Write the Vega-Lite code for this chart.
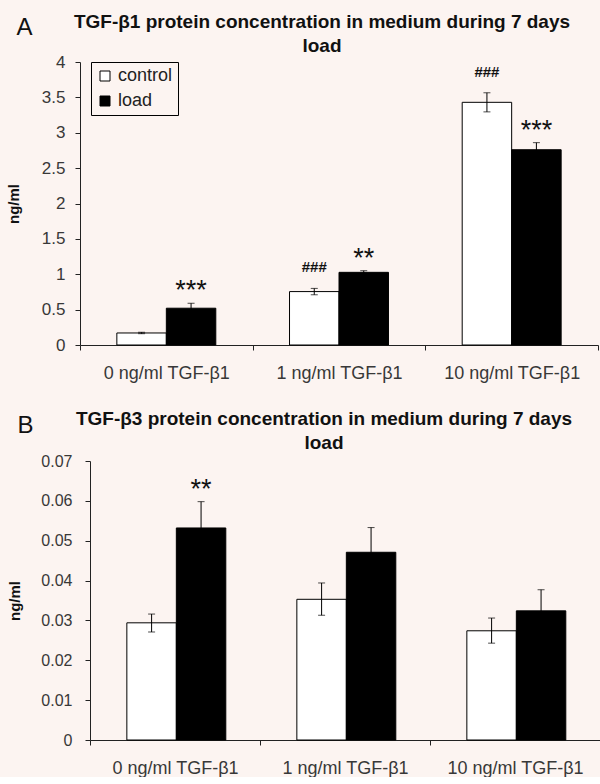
{
  "$schema": "https://vega.github.io/schema/vega-lite/v6.json",
  "background": "#fcf4f1",
  "padding": {"left": 6, "top": 13, "right": 0, "bottom": 0},
  "spacing": 28,
  "config": {
    "view": {"stroke": null},
    "font": "Liberation Sans",
    "axis": {"grid": false, "domainColor": "#222", "tickColor": "#222", "labelColor": "#383838", "labelFont": "Liberation Sans", "titleFont": "Liberation Sans", "tickSize": 5, "labelOverlap": false}
  },
  "vconcat": [
    {
      "width": 518,
      "height": 283,
      "title": {"text": ["TGF-β1 protein concentration in medium during 7 days", "load"], "fontSize": 19, "fontWeight": "bold", "font": "Liberation Sans", "color": "#111", "lineHeight": 24, "dx": -17, "offset": -40, "anchor": "middle", "frame": "group"},
      "data": {"values": [
        {"dose": "0 ng/ml TGF-β1", "group": "control", "mean": 0.17, "lo": 0.16, "hi": 0.18, "sig": ""},
        {"dose": "0 ng/ml TGF-β1", "group": "load", "mean": 0.52, "lo": 0.45, "hi": 0.59, "sig": "***"},
        {"dose": "1 ng/ml TGF-β1", "group": "control", "mean": 0.755, "lo": 0.71, "hi": 0.8, "sig": "###"},
        {"dose": "1 ng/ml TGF-β1", "group": "load", "mean": 1.027, "lo": 1.0, "hi": 1.05, "sig": "**"},
        {"dose": "10 ng/ml TGF-β1", "group": "control", "mean": 3.43, "lo": 3.295, "hi": 3.565, "sig": "###"},
        {"dose": "10 ng/ml TGF-β1", "group": "load", "mean": 2.76, "lo": 2.66, "hi": 2.86, "sig": "***"}
      ]},
      "layer": [
        {
          "mark": {"type": "bar", "stroke": "black", "strokeWidth": 1},
          "encoding": {
            "x": {"field": "dose", "type": "nominal", "sort": ["0 ng/ml TGF-β1", "1 ng/ml TGF-β1", "10 ng/ml TGF-β1"], "scale": {"paddingInner": 0, "paddingOuter": 0}, "axis": {"title": null, "labelAngle": 0, "tickBand": "extent", "labelFontSize": 18, "labelPadding": 14}},
            "xOffset": {"field": "group", "type": "nominal", "sort": ["control", "load"], "scale": {"paddingInner": 0, "paddingOuter": 0.745}},
            "y": {"field": "mean", "type": "quantitative", "title": "ng/ml", "scale": {"domain": [0, 4], "nice": false}, "axis": {"values": [0, 0.5, 1, 1.5, 2, 2.5, 3, 3.5, 4], "format": "~g", "labelFontSize": 17, "labelPadding": 10, "titleFontSize": 15, "titleFontWeight": "bold", "titleColor": "#111", "titleX": -59}},
            "fill": {"field": "group", "type": "nominal", "scale": {"domain": ["control", "load"], "range": ["white", "black"]}, "legend": {"orient": "none", "legendX": 11, "legendY": 0, "title": null, "strokeColor": "black", "padding": 5, "symbolType": "square", "symbolSize": 100, "symbolStrokeColor": "black", "symbolStrokeWidth": 1, "labelFontSize": 18, "labelFont": "Liberation Sans", "labelColor": "#222", "rowPadding": 7, "labelOffset": 4}}
          }
        },
        {
          "mark": {"type": "rule", "color": "black", "strokeWidth": 1},
          "encoding": {
            "x": {"field": "dose", "type": "nominal", "sort": ["0 ng/ml TGF-β1", "1 ng/ml TGF-β1", "10 ng/ml TGF-β1"]},
            "xOffset": {"field": "group", "type": "nominal", "sort": ["control", "load"]},
            "y": {"field": "lo", "type": "quantitative", "title": "ng/ml", "axis": {"values": [0, 0.5, 1, 1.5, 2, 2.5, 3, 3.5, 4], "format": "~g", "labelFontSize": 17, "labelPadding": 10, "titleFontSize": 15, "titleFontWeight": "bold", "titleColor": "#111", "titleX": -59}},
            "y2": {"field": "hi"}
          }
        },
        {
          "mark": {"type": "tick", "color": "black", "size": 7, "thickness": 1},
          "encoding": {
            "x": {"field": "dose", "type": "nominal", "sort": ["0 ng/ml TGF-β1", "1 ng/ml TGF-β1", "10 ng/ml TGF-β1"]},
            "xOffset": {"field": "group", "type": "nominal", "sort": ["control", "load"]},
            "y": {"field": "hi", "type": "quantitative", "title": "ng/ml", "axis": {"values": [0, 0.5, 1, 1.5, 2, 2.5, 3, 3.5, 4], "format": "~g", "labelFontSize": 17, "labelPadding": 10, "titleFontSize": 15, "titleFontWeight": "bold", "titleColor": "#111", "titleX": -59}}
          }
        },
        {
          "mark": {"type": "tick", "color": "black", "size": 7, "thickness": 1},
          "encoding": {
            "x": {"field": "dose", "type": "nominal", "sort": ["0 ng/ml TGF-β1", "1 ng/ml TGF-β1", "10 ng/ml TGF-β1"]},
            "xOffset": {"field": "group", "type": "nominal", "sort": ["control", "load"]},
            "y": {"field": "lo", "type": "quantitative", "title": "ng/ml", "axis": {"values": [0, 0.5, 1, 1.5, 2, 2.5, 3, 3.5, 4], "format": "~g", "labelFontSize": 17, "labelPadding": 10, "titleFontSize": 15, "titleFontWeight": "bold", "titleColor": "#111", "titleX": -59}}
          }
        },
        {
          "transform": [{"filter": "datum.sig == '***' || datum.sig == '**'"}],
          "mark": {"type": "text", "fontSize": 27, "baseline": "alphabetic", "dy": -4, "color": "#111", "font": "Liberation Sans"},
          "encoding": {
            "x": {"field": "dose", "type": "nominal", "sort": ["0 ng/ml TGF-β1", "1 ng/ml TGF-β1", "10 ng/ml TGF-β1"]},
            "xOffset": {"field": "group", "type": "nominal", "sort": ["control", "load"]},
            "y": {"field": "hi", "type": "quantitative", "title": "ng/ml", "axis": {"values": [0, 0.5, 1, 1.5, 2, 2.5, 3, 3.5, 4], "format": "~g", "labelFontSize": 17, "labelPadding": 10, "titleFontSize": 15, "titleFontWeight": "bold", "titleColor": "#111", "titleX": -59}},
            "text": {"field": "sig"}
          }
        },
        {
          "transform": [{"filter": "datum.sig == '###'"}],
          "mark": {"type": "text", "fontSize": 15, "fontWeight": "bold", "baseline": "alphabetic", "dy": -16, "color": "#111", "font": "Liberation Sans"},
          "encoding": {
            "x": {"field": "dose", "type": "nominal", "sort": ["0 ng/ml TGF-β1", "1 ng/ml TGF-β1", "10 ng/ml TGF-β1"]},
            "xOffset": {"field": "group", "type": "nominal", "sort": ["control", "load"]},
            "y": {"field": "hi", "type": "quantitative", "title": "ng/ml", "axis": {"values": [0, 0.5, 1, 1.5, 2, 2.5, 3, 3.5, 4], "format": "~g", "labelFontSize": 17, "labelPadding": 10, "titleFontSize": 15, "titleFontWeight": "bold", "titleColor": "#111", "titleX": -59}},
            "text": {"field": "sig"}
          }
        },
        {
          "data": {"values": [{"letter": "A"}]},
          "mark": {"type": "text", "fontSize": 24, "baseline": "alphabetic", "align": "center", "dx": -117, "color": "#111", "font": "Liberation Sans"},
          "encoding": {
            "x": {"datum": "0 ng/ml TGF-β1", "type": "nominal"},
            "xOffset": {"datum": "control", "type": "nominal"},
            "y": {"datum": 4.38, "type": "quantitative", "title": "ng/ml", "axis": {"values": [0, 0.5, 1, 1.5, 2, 2.5, 3, 3.5, 4], "format": "~g", "labelFontSize": 17, "labelPadding": 10, "titleFontSize": 15, "titleFontWeight": "bold", "titleColor": "#111", "titleX": -59}},
            "text": {"field": "letter"}
          }
        }
      ]
    },
    {
      "width": 520,
      "height": 279,
      "title": {"text": ["TGF-β3 protein concentration in medium during 7 days", "load"], "fontSize": 19, "fontWeight": "bold", "font": "Liberation Sans", "color": "#111", "lineHeight": 24, "dx": -16, "offset": -39, "anchor": "middle", "frame": "group"},
      "data": {"values": [
        {"dose": "0 ng/ml TGF-β1", "group": "control", "mean": 0.0294, "lo": 0.0271, "hi": 0.0316, "sig": ""},
        {"dose": "0 ng/ml TGF-β1", "group": "load", "mean": 0.0532, "lo": 0.0467, "hi": 0.0598, "sig": "**"},
        {"dose": "1 ng/ml TGF-β1", "group": "control", "mean": 0.0353, "lo": 0.0313, "hi": 0.0394, "sig": ""},
        {"dose": "1 ng/ml TGF-β1", "group": "load", "mean": 0.0471, "lo": 0.0409, "hi": 0.0533, "sig": ""},
        {"dose": "10 ng/ml TGF-β1", "group": "control", "mean": 0.0274, "lo": 0.0243, "hi": 0.0306, "sig": ""},
        {"dose": "10 ng/ml TGF-β1", "group": "load", "mean": 0.0324, "lo": 0.0271, "hi": 0.0377, "sig": ""}
      ]},
      "layer": [
        {
          "mark": {"type": "bar", "stroke": "black", "strokeWidth": 1},
          "encoding": {
            "x": {"field": "dose", "type": "nominal", "sort": ["0 ng/ml TGF-β1", "1 ng/ml TGF-β1", "10 ng/ml TGF-β1"], "scale": {"paddingInner": 0, "paddingOuter": 0, "range": [10, 520]}, "axis": {"title": null, "labelAngle": 0, "tickBand": "extent", "labelFontSize": 18, "labelPadding": 14}},
            "xOffset": {"field": "group", "type": "nominal", "sort": ["control", "load"], "scale": {"paddingInner": 0, "paddingOuter": 0.745}},
            "y": {"field": "mean", "type": "quantitative", "title": "ng/ml", "scale": {"domain": [0, 0.07], "nice": false}, "axis": {"offset": -10, "values": [0, 0.01, 0.02, 0.03, 0.04, 0.05, 0.06, 0.07], "format": "~g", "labelFontSize": 16, "labelPadding": 13, "titleFontSize": 15, "titleFontWeight": "bold", "titleColor": "#111", "titleX": -68}},
            "fill": {"field": "group", "type": "nominal", "scale": {"domain": ["control", "load"], "range": ["white", "black"]}, "legend": {"orient": "none", "legendX": 405, "legendY": 3, "title": null, "strokeColor": "black", "padding": 5, "symbolType": "square", "symbolSize": 144, "symbolStrokeColor": "black", "symbolStrokeWidth": 1, "labelFontSize": 18, "labelFont": "Liberation Sans", "labelColor": "#222", "rowPadding": 8, "labelOffset": 4}}
          }
        },
        {
          "mark": {"type": "rule", "color": "black", "strokeWidth": 1},
          "encoding": {
            "x": {"field": "dose", "type": "nominal", "sort": ["0 ng/ml TGF-β1", "1 ng/ml TGF-β1", "10 ng/ml TGF-β1"]},
            "xOffset": {"field": "group", "type": "nominal", "sort": ["control", "load"]},
            "y": {"field": "lo", "type": "quantitative", "title": "ng/ml", "axis": {"offset": -10, "values": [0, 0.01, 0.02, 0.03, 0.04, 0.05, 0.06, 0.07], "format": "~g", "labelFontSize": 16, "labelPadding": 13, "titleFontSize": 15, "titleFontWeight": "bold", "titleColor": "#111", "titleX": -68}},
            "y2": {"field": "hi"}
          }
        },
        {
          "mark": {"type": "tick", "color": "black", "size": 7, "thickness": 1},
          "encoding": {
            "x": {"field": "dose", "type": "nominal", "sort": ["0 ng/ml TGF-β1", "1 ng/ml TGF-β1", "10 ng/ml TGF-β1"]},
            "xOffset": {"field": "group", "type": "nominal", "sort": ["control", "load"]},
            "y": {"field": "hi", "type": "quantitative", "title": "ng/ml", "axis": {"offset": -10, "values": [0, 0.01, 0.02, 0.03, 0.04, 0.05, 0.06, 0.07], "format": "~g", "labelFontSize": 16, "labelPadding": 13, "titleFontSize": 15, "titleFontWeight": "bold", "titleColor": "#111", "titleX": -68}}
          }
        },
        {
          "mark": {"type": "tick", "color": "black", "size": 7, "thickness": 1},
          "encoding": {
            "x": {"field": "dose", "type": "nominal", "sort": ["0 ng/ml TGF-β1", "1 ng/ml TGF-β1", "10 ng/ml TGF-β1"]},
            "xOffset": {"field": "group", "type": "nominal", "sort": ["control", "load"]},
            "y": {"field": "lo", "type": "quantitative", "title": "ng/ml", "axis": {"offset": -10, "values": [0, 0.01, 0.02, 0.03, 0.04, 0.05, 0.06, 0.07], "format": "~g", "labelFontSize": 16, "labelPadding": 13, "titleFontSize": 15, "titleFontWeight": "bold", "titleColor": "#111", "titleX": -68}}
          }
        },
        {
          "transform": [{"filter": "datum.sig == '***' || datum.sig == '**'"}],
          "mark": {"type": "text", "fontSize": 27, "baseline": "alphabetic", "dy": -4, "color": "#111", "font": "Liberation Sans"},
          "encoding": {
            "x": {"field": "dose", "type": "nominal", "sort": ["0 ng/ml TGF-β1", "1 ng/ml TGF-β1", "10 ng/ml TGF-β1"]},
            "xOffset": {"field": "group", "type": "nominal", "sort": ["control", "load"]},
            "y": {"field": "hi", "type": "quantitative", "title": "ng/ml", "axis": {"offset": -10, "values": [0, 0.01, 0.02, 0.03, 0.04, 0.05, 0.06, 0.07], "format": "~g", "labelFontSize": 16, "labelPadding": 13, "titleFontSize": 15, "titleFontWeight": "bold", "titleColor": "#111", "titleX": -68}},
            "text": {"field": "sig"}
          }
        },
        {
          "data": {"values": [{"letter": "B"}]},
          "mark": {"type": "text", "fontSize": 24, "baseline": "alphabetic", "align": "center", "dx": -126, "color": "#111", "font": "Liberation Sans"},
          "encoding": {
            "x": {"datum": "0 ng/ml TGF-β1", "type": "nominal"},
            "xOffset": {"datum": "control", "type": "nominal"},
            "y": {"datum": 0.077, "type": "quantitative", "title": "ng/ml", "axis": {"offset": -10, "values": [0, 0.01, 0.02, 0.03, 0.04, 0.05, 0.06, 0.07], "format": "~g", "labelFontSize": 16, "labelPadding": 13, "titleFontSize": 15, "titleFontWeight": "bold", "titleColor": "#111", "titleX": -68}},
            "text": {"field": "letter"}
          }
        }
      ]
    }
  ]
}
